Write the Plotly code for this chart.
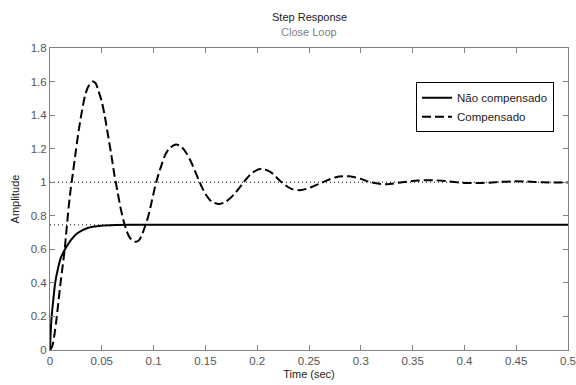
import plotly.graph_objects as go

# Data
t_uncomp = [0, 0.0006, 0.0016, 0.0032, 0.005, 0.0075, 0.0105, 0.0145, 0.0203, 0.0267,
            0.0364, 0.0493, 0.063, 0.08, 0.12, 0.5]
y_uncomp = [0, 0.10, 0.20, 0.30, 0.40, 0.48, 0.55, 0.60, 0.657, 0.697,
            0.727, 0.740, 0.745, 0.746, 0.746, 0.746]

t_comp = [0, 0.002, 0.004, 0.006, 0.008, 0.010, 0.012, 0.014, 0.016, 0.018, 0.020,
          0.022, 0.025, 0.028, 0.031, 0.034, 0.037, 0.041, 0.044, 0.047, 0.050,
          0.053, 0.056, 0.059, 0.062, 0.065, 0.068, 0.071, 0.074, 0.077, 0.080,
          0.083, 0.086, 0.089, 0.0922, 0.095, 0.098, 0.1025, 0.107, 0.111, 0.115,
          0.1215, 0.127, 0.132, 0.137, 0.1445, 0.150, 0.156, 0.1635, 0.170, 0.178,
          0.187, 0.195, 0.204, 0.213, 0.2235, 0.233, 0.2425, 0.252, 0.2635, 0.276,
          0.289, 0.300, 0.309, 0.325, 0.340, 0.355, 0.370, 0.385, 0.400, 0.415,
          0.430, 0.445, 0.460, 0.475, 0.490, 0.500]
y_comp = [0, 0.02, 0.08, 0.17, 0.28, 0.39, 0.49, 0.59, 0.72, 0.85, 0.96,
          1.05, 1.19, 1.32, 1.43, 1.52, 1.57, 1.60, 1.59, 1.54, 1.48,
          1.39, 1.28, 1.17, 1.05, 0.95, 0.85, 0.77, 0.71, 0.67, 0.65,
          0.645, 0.655, 0.69, 0.746, 0.80, 0.88, 1.00, 1.09, 1.16, 1.20,
          1.225, 1.21, 1.17, 1.11, 1.00, 0.93, 0.885, 0.87, 0.885, 0.93,
          1.00, 1.055, 1.08, 1.06, 1.00, 0.96, 0.953, 0.97, 1.00, 1.03,
          1.035, 1.02, 1.00, 0.988, 1.00, 1.01, 1.012, 1.005, 0.996, 0.995,
          1.00, 1.005, 1.004, 1.00, 0.998, 0.999]

final_uncomp = 0.746
final_comp = 1.0

x_ticks = [0, 0.05, 0.1, 0.15, 0.2, 0.25, 0.3, 0.35, 0.4, 0.45, 0.5]
x_labels = ["0", "0.05", "0.1", "0.15", "0.2", "0.25", "0.3", "0.35", "0.4", "0.45", "0.5"]
y_ticks = [0, 0.2, 0.4, 0.6, 0.8, 1.0, 1.2, 1.4, 1.6, 1.8]
y_labels = ["0", "0.2", "0.4", "0.6", "0.8", "1", "1.2", "1.4", "1.6", "1.8"]

FONT = "Liberation Sans"

fig = go.Figure()

# steady-state dotted reference lines
fig.add_trace(go.Scatter(x=[x_ticks[0], x_ticks[-1]], y=[final_comp, final_comp], mode="lines",
                         line=dict(color="black", width=1, dash="1px,3px"),
                         showlegend=False, hoverinfo="skip"))
fig.add_trace(go.Scatter(x=[x_ticks[0], x_ticks[-1]], y=[final_uncomp, final_uncomp], mode="lines",
                         line=dict(color="black", width=1, dash="1px,3px"),
                         showlegend=False, hoverinfo="skip"))

fig.add_trace(go.Scatter(x=t_uncomp, y=y_uncomp, mode="lines", name="Não compensado",
                         line=dict(color="black", width=2, shape="spline", smoothing=0.6)))
fig.add_trace(go.Scatter(x=t_comp, y=y_comp, mode="lines", name="Compensado",
                         line=dict(color="black", width=2, dash="9px,4px", shape="spline", smoothing=0.8)))

axis_common = dict(showline=True, linecolor="#808080", linewidth=1, mirror="allticks",
                   ticks="inside", ticklen=5, tickcolor="#808080", showgrid=False, zeroline=False,
                   automargin=False,
                   tickfont=dict(family=FONT, size=11.5, color="#555555"))

fig.update_xaxes(range=[0, 0.5], tickvals=x_ticks, ticktext=x_labels,
                 title=dict(text="Time (sec)", font=dict(family=FONT, size=11, color="#222222"), standoff=4),
                 **axis_common)
fig.update_yaxes(range=[0, 1.8], tickvals=y_ticks, ticktext=y_labels,
                 title=dict(text="Amplitude", font=dict(family=FONT, size=11, color="#222222"), standoff=8),
                 **axis_common)

fig.add_annotation(text="Step Response", x=0.5, y=1, xref="paper", yref="paper",
                   xanchor="center", yanchor="bottom", yshift=23, showarrow=False,
                   font=dict(family=FONT, size=11, color="#222222"))
fig.add_annotation(text="Close Loop", x=0.5, y=1, xref="paper", yref="paper",
                   xanchor="center", yanchor="bottom", yshift=8, showarrow=False,
                   font=dict(family=FONT, size=11, color="#808080"))

fig.update_layout(
    width=576, height=385,
    margin=dict(l=50, r=8, t=48, b=35),
    paper_bgcolor="white", plot_bgcolor="white",
    font=dict(family=FONT, size=11, color="#222222"),
    legend=dict(x=0.973, y=0.887, xanchor="right", yanchor="top",
                bgcolor="white", bordercolor="black", borderwidth=1,
                font=dict(family=FONT, size=11.5, color="#222222"),
                itemwidth=30, tracegroupgap=0),
)

fig.write_html("out.html", config={"displayModeBar": False},
               post_script="document.body.style.margin='0';document.body.style.overflow='hidden';")
